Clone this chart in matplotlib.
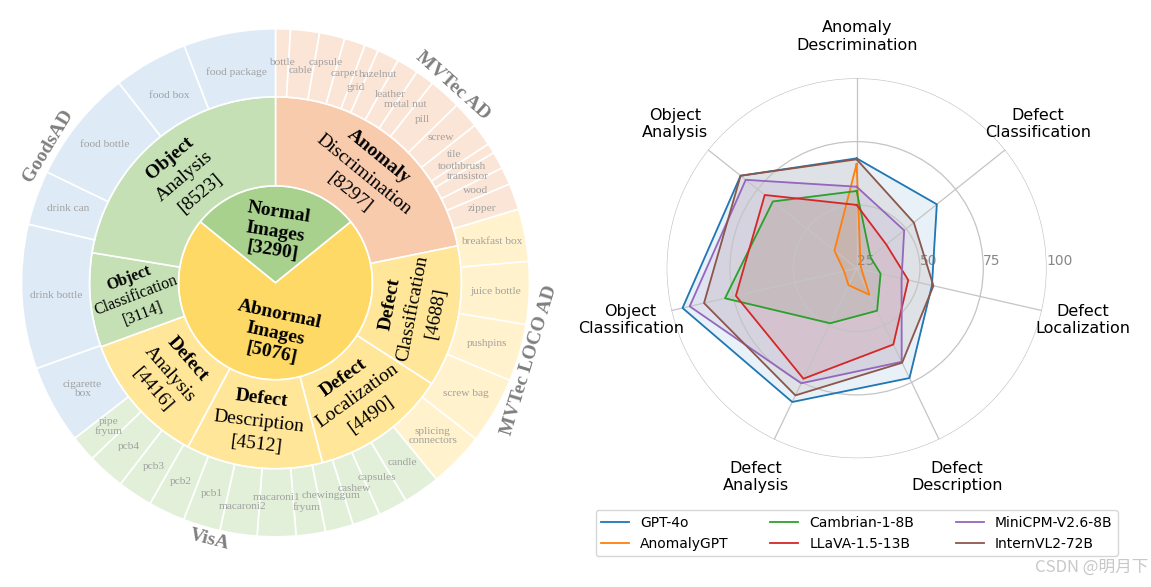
import numpy as np
import matplotlib
matplotlib.use("Agg")
import matplotlib.pyplot as plt

# === Sunburst data ===
inner_labels = ["Normal\nImages\n[3290]", "Abnormal\nImages\n[5076]"]
inner_span = [102, 258]  # angular share (deg)

task_heads = ["Anomaly", "Defect", "Defect", "Defect", "Defect", "Object", "Object"]
task_names = ["Discrimination", "Classification", "Localization", "Description",
              "Analysis", "Classification", "Analysis"]
task_counts = [8297, 4688, 4490, 4512, 4416, 3114, 8523]

# outer ring, clockwise from 12 o'clock (relative sizes)
mvtec_items = ["bottle", "cable", "capsule", "carpet", "grid", "hazelnut", "leather",
               "metal nut", "pill", "screw", "tile", "toothbrush", "transistor", "wood", "zipper"]
mvtec_sizes = [3.4, 6.6, 5.8, 4.8, 3.2, 5.0, 5.0, 4.3, 7.4, 6.1, 5.2, 2.3, 3.9, 4.0, 6.0]
loco_items = ["breakfast box", "juice bottle", "pushpins", "screw bag", "splicing\nconnectors"]
loco_sizes = [12.0, 14.3, 13.1, 15.3, 12.7]
visa_items = ["candle", "capsules", "cashew", "chewinggum", "fryum", "macaroni1", "macaroni2",
              "pcb1", "pcb2", "pcb3", "pcb4", "pipe\nfryum"]
visa_sizes = [8.4, 6.7, 6.4, 6.4, 6.7, 8.8, 8.5, 8.5, 8.4, 8.0, 8.6, 6.0]
goods_items = ["cigarette\nbox", "drink bottle", "drink can", "food bottle", "food box", "food package"]
goods_sizes = [18, 33, 12.5, 26, 17, 21]
dataset_names = ["MVTec AD", "MVTec LOCO AD", "VisA", "GoodsAD"]

# === Radar data ===
radar_axes = ["Anomaly\nDescrimination", "Defect\nClassification", "Defect\nLocalization",
              "Defect\nDescription", "Defect\nAnalysis", "Object\nClassification", "Object\nAnalysis"]
model_names = ["GPT-4o", "AnomalyGPT", "Cambrian-1-8B", "LLaVA-1.5-13B", "MiniCPM-V2.6-8B", "InternVL2-72B"]
gpt4o = [68.4, 65.5, 55.5, 73.1, 83.6, 95.5, 83.6]
anomalygpt = [66.2, 27.0, 27.0, 36.6, 32.4, 30.1, 36.2]
cambrian = [55.5, 32.0, 34.7, 43.6, 49.1, 78.3, 67.3]
llava = [50.0, 40.0, 45.9, 58.4, 73.4, 73.9, 71.4]
minicpm = [57.2, 49.0, 43.2, 66.0, 75.4, 92.6, 81.0]
internvl = [68.0, 53.9, 56.1, 66.4, 80.7, 86.8, 83.6]
model_scores = [gpt4o, anomalygpt, cambrian, llava, minicpm, internvl]
r_ticks = [25, 50, 75, 100]

# === Figure ===
W, H = 1151, 587
fig = plt.figure(figsize=(W / 100, H / 100), dpi=100)
ax = fig.add_axes([0, 0, 1, 1])  # pixel-unit canvas for the sunburst

cx, cy = 275.5, H - 282.8
R_IN, R_MID, R_OUT = 97, 186, 254
serif = "Liberation Serif"
edge = dict(edgecolor="white", linewidth=1.2)


def polar_xy(r, deg):
    t = np.deg2rad(deg)
    return cx + r * np.cos(t), cy + r * np.sin(t)


def tangent_rot(mid):
    mid = (mid + 180) % 360 - 180
    return mid - 90 if 0 <= mid <= 180 else mid + 90


# inner ring
w_in, _ = ax.pie(inner_span, radius=R_IN, center=(cx, cy), startangle=141, counterclock=False,
                 colors=["#a9d18e", "#ffd966"], wedgeprops=edge)
for w, lab, rot in zip(w_in, inner_labels, [-9, -12]):
    mid = (w.theta1 + w.theta2) / 2
    x, y = polar_xy(51, mid)
    ax.text(x, y, lab, ha="center", va="center", rotation=rot, fontsize=14,
            fontweight="bold", family=serif, linespacing=1.2)

# middle ring
mid_colors = ["#f8cbad", "#ffe699", "#ffe699", "#ffe699", "#ffe699", "#c5e0b4", "#c5e0b4"]
w_mid, _ = ax.pie(task_counts, radius=R_MID, center=(cx, cy), startangle=90, counterclock=False,
                  colors=mid_colors, wedgeprops=dict(width=R_MID - R_IN, **edge))
for w, head, name, n in zip(w_mid, task_heads, task_names, task_counts):
    mid = (w.theta1 + w.theta2) / 2
    rot, size = tangent_rot(mid), 14
    if head == "Object" and name == "Classification":
        rot, size = 21, 11.5
    up = np.deg2rad(rot + 90)
    x0, y0 = polar_xy(140, mid)
    step = size * 1.667
    for i, (txt, wt) in enumerate([(head, "bold"), (name, "normal"), (f"[{n}]", "normal")]):
        off = (1 - i) * step
        ax.text(x0 + off * np.cos(up), y0 + off * np.sin(up), txt, rotation=rot,
                rotation_mode="anchor", ha="center", va="center", fontsize=size,
                fontweight=wt, family=serif)

# outer ring
groups = [(mvtec_items, mvtec_sizes, "#fbe5d6"), (loco_items, loco_sizes, "#fff2cc"),
          (visa_items, visa_sizes, "#e2f0d9"), (goods_items, goods_sizes, "#deebf7")]
outer_items = [it for g in groups for it in g[0]]
outer_sizes = [s for g in groups for s in g[1]]
outer_colors = [g[2] for g in groups for _ in g[0]]
w_out, _ = ax.pie(outer_sizes, radius=R_OUT, center=(cx, cy), startangle=90, counterclock=False,
                  colors=outer_colors, wedgeprops=dict(width=R_OUT - R_MID, **edge))

nudge = {"cable": -6, "capsule": 6, "grid": -9, "hazelnut": 12,
         "macaroni2": 6, "macaroni1": -5, "fryum": 7, "food package": -6, "food box": -5}
for w, lab in zip(w_out, outer_items):
    mid = (w.theta1 + w.theta2) / 2
    x, y = polar_xy(220 + nudge.get(lab, 0), mid)
    ax.text(x, y, lab, ha="center", va="center", fontsize=8.2, color="#a0a0a0",
            family=serif, linespacing=1.0)

shift = {"MVTec AD": -5.3, "MVTec LOCO AD": 0, "VisA": -8, "GoodsAD": -5}
k = 0
for name, (items, _, _) in zip(dataset_names, groups):
    first, last = w_out[k], w_out[k + len(items) - 1]
    k += len(items)
    t_hi = max(first.theta1, first.theta2)
    t_lo = min(last.theta1, last.theta2)
    mid = (t_hi + t_lo) / 2 + shift[name]
    x, y = polar_xy(265, mid)
    ax.text(x, y, name, ha="center", va="center", rotation=tangent_rot(mid),
            rotation_mode="anchor", fontsize=14, fontweight="bold", color="#7f7f7f", family=serif)

ax.set_xlim(0, W)
ax.set_ylim(0, H)
ax.axis("off")

# === Radar ===
rax = fig.add_axes([0.5792, 0.2193, 0.3301, 0.6474], projection="polar")
rax.set_theta_offset(np.pi / 2)
rax.set_theta_direction(-1)
angles = np.linspace(0, 2 * np.pi, len(radar_axes), endpoint=False)
colors = ["tab:blue", "tab:orange", "tab:green", "tab:red", "tab:purple", "tab:brown"]
for name, vals, col in zip(model_names, model_scores, colors):
    a = np.r_[angles, angles[0]]
    v = np.r_[vals, vals[0]]
    rax.plot(a, v, color=col, lw=1.3, label=name)
    rax.fill(a, v, color=col, alpha=0.1)

rax.set_ylim(25, 100)
rax.set_yticks(r_ticks)
rax.set_yticklabels([str(t) for t in r_ticks], color="#888888", fontsize=10)
rax.set_rlabel_position(90)
rax.set_xticks(angles)
rax.set_xticklabels([])
rax.grid(color="#c4c4c4", lw=0.9)
rax.spines["polar"].set_visible(False)
for a, lab in zip(angles, radar_axes):
    rax.text(a, 116.5, lab, ha="center", va="center", fontsize=11.5)

fig.legend(*rax.get_legend_handles_labels(), loc="upper center", bbox_to_anchor=(0.7443, 0.143),
           ncol=3, fontsize=10, columnspacing=3.0, edgecolor="#cccccc")

fig.text(1148 / W, 1 - 567 / H, "CSDN @明月下", ha="right", va="center", fontsize=12,
         color="#c8c8c8", family=["Noto Sans CJK SC", "DejaVu Sans"])

fig.savefig("out.png", dpi=100)
